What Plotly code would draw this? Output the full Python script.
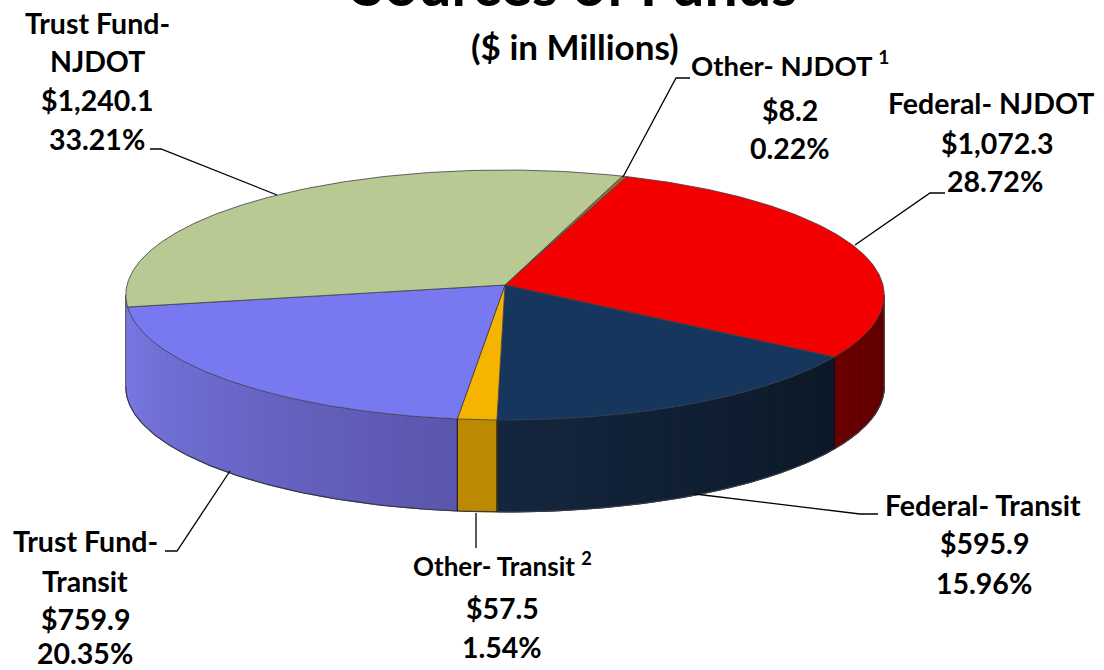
import numpy as np
import plotly.graph_objects as go

# ---- data, clockwise from the top-right of the pie ----
categories = ["Other- NJDOT", "Federal- NJDOT", "Federal- Transit", "Other- Transit", "Trust Fund- Transit", "Trust Fund- NJDOT"]
values = [8.2, 1072.3, 595.9, 57.5, 759.9, 1240.1]
percent_labels = ["0.22%", "28.72%", "15.96%", "1.54%", "20.35%", "33.21%"]
top_colors = ["#A5642A", "#F40000", "#17365D", "#F4B400", "#7878F0", "#B9C993"]
wall_left = ["#6E4010", "#6A0000", "#14263F", "#BC8A00", "#7878E4", "#7878E4"]
wall_right = ["#6E4010", "#5C0000", "#0B1826", "#BC8A00", "#5A56AC", "#7878E4"]

START_DEG = 19.5
CX, CY, R, K, P = 505.0, 285.0, 378.0, 124.2, 0.08
DEPTH = 92.0


def project(theta_deg):
    t = np.radians(theta_deg)
    u, v = np.sin(t), np.cos(t)
    w = 1 + P * v
    return CX + R * u / w, CY - K * v / w


shares = np.array(values) / sum(values) * 360.0
edges = START_DEG + np.concatenate([[0], np.cumsum(shares)])
WALL_FROM, WALL_TO = 94.6, 265.4


def hex2rgb(h):
    return np.array([int(h[i:i + 2], 16) for i in (1, 3, 5)], float)


fig = go.Figure()

# side walls (painted as narrow strips for the horizontal shading)
for i, (a, b) in enumerate(zip(edges[:-1], edges[1:])):
    lo, hi = max(a, WALL_FROM), min(b, WALL_TO)
    if hi <= lo:
        continue
    n = max(1, int((hi - lo) / 2.5))
    steps = np.linspace(lo, hi, n + 1)
    c0, c1 = hex2rgb(wall_right[i]), hex2rgb(wall_left[i])
    for j in range(n):
        f = (j + 0.5) / n
        col = c0 * (1 - f) + c1 * f
        col = f"rgb({col[0]:.0f},{col[1]:.0f},{col[2]:.0f})"
        th = np.linspace(steps[j], steps[j + 1], 4)
        xs, ys = project(th)
        px = np.concatenate([xs, xs[::-1], xs[:1]])
        py = np.concatenate([ys, ys[::-1] + DEPTH, ys[:1]])
        fig.add_trace(go.Scatter(x=px, y=py, mode="lines", fill="toself", fillcolor=col,
                                 line=dict(color=col, width=1), hoverinfo="skip", showlegend=False))

# wall outlines
th = np.linspace(WALL_FROM, WALL_TO, 300)
xs, ys = project(th)
fig.add_trace(go.Scatter(x=xs, y=ys + DEPTH, mode="lines", line=dict(color="#3A3A46", width=1.2),
                         hoverinfo="skip", showlegend=False))
for ang, colr in [(WALL_FROM, "#555555"), (WALL_TO, "#555555")] + [(e, "#101018") for e in edges[2:5]]:
    x0, y0 = project(np.array([ang]))
    fig.add_trace(go.Scatter(x=[x0[0], x0[0]], y=[y0[0], y0[0] + DEPTH], mode="lines",
                             line=dict(color=colr, width=1), hoverinfo="skip", showlegend=False))

# top face
for i, (a, b) in enumerate(zip(edges[:-1], edges[1:])):
    th = np.linspace(a, b, max(3, int(b - a) * 2))
    xs, ys = project(th)
    px = np.concatenate([[CX], xs, [CX]])
    py = np.concatenate([[CY], ys, [CY]])
    fig.add_trace(go.Scatter(x=px, y=py, mode="lines", fill="toself", fillcolor=top_colors[i],
                             line=dict(color="#3C3C44", width=0.8), name=categories[i],
                             hoverinfo="skip", showlegend=False))

# leader lines
leaders = [
    ([150, 161, 277], [149, 149, 195]),
    ([690, 676, 623], [78, 78, 177]),
    ([945, 930, 855], [193, 193, 245]),
    ([878, 860, 695], [514, 514, 494]),
    ([476, 476], [513, 548]),
    ([165, 177, 230], [551, 551, 471]),
]
for lx, ly in leaders:
    fig.add_trace(go.Scatter(x=lx, y=ly, mode="lines", line=dict(color="black", width=1.3),
                             hoverinfo="skip", showlegend=False))

FONT = "Lato, 'Open Sans', sans-serif"


def money(v):
    return f"${v:,.1f}"


def put(text, x, y, size=28.5, yshift=0):
    fig.add_annotation(x=x, y=y, text=f"<b>{text}</b>", showarrow=False, xanchor="center", yanchor="middle",
                       yshift=yshift, font=dict(family=FONT, size=size, color="black"))


put("Sources of Funds", 574, 0, 59, yshift=17)
put("($ in Millions)", 575, 46, 35)

put("Trust Fund-", 97, 23); put("NJDOT", 97, 61); put(money(values[5]), 97, 100); put(percent_labels[5], 97, 139)
put("Other- NJDOT <sup>1</sup>", 790, 63, 27.5); put(money(values[0]), 790, 110); put(percent_labels[0], 790, 148)
put("Federal- NJDOT", 991, 103); put(money(values[1]), 997, 143); put(percent_labels[1], 995, 181)
put("Federal- Transit", 983, 505); put(money(values[2]), 984, 543); put(percent_labels[2], 984, 583)
put("Other- Transit <sup>2</sup>", 502, 564, 26); put(money(values[3]), 502, 608); put(percent_labels[3], 502, 647)
put("Trust Fund-", 85, 541); put("Transit", 85, 581); put(money(values[4]), 85, 619); put(percent_labels[4], 85, 653)

fig.update_layout(
    width=1104, height=670, margin=dict(l=0, r=0, t=0, b=0),
    paper_bgcolor="white", plot_bgcolor="white", showlegend=False, hovermode=False,
    xaxis=dict(range=[0, 1104], visible=False, fixedrange=True),
    yaxis=dict(range=[670, 0], visible=False, fixedrange=True),
)
fig.write_html("out.html", config={"displayModeBar": False},
               post_script="document.body.style.margin='0';document.body.style.overflow='hidden';")
